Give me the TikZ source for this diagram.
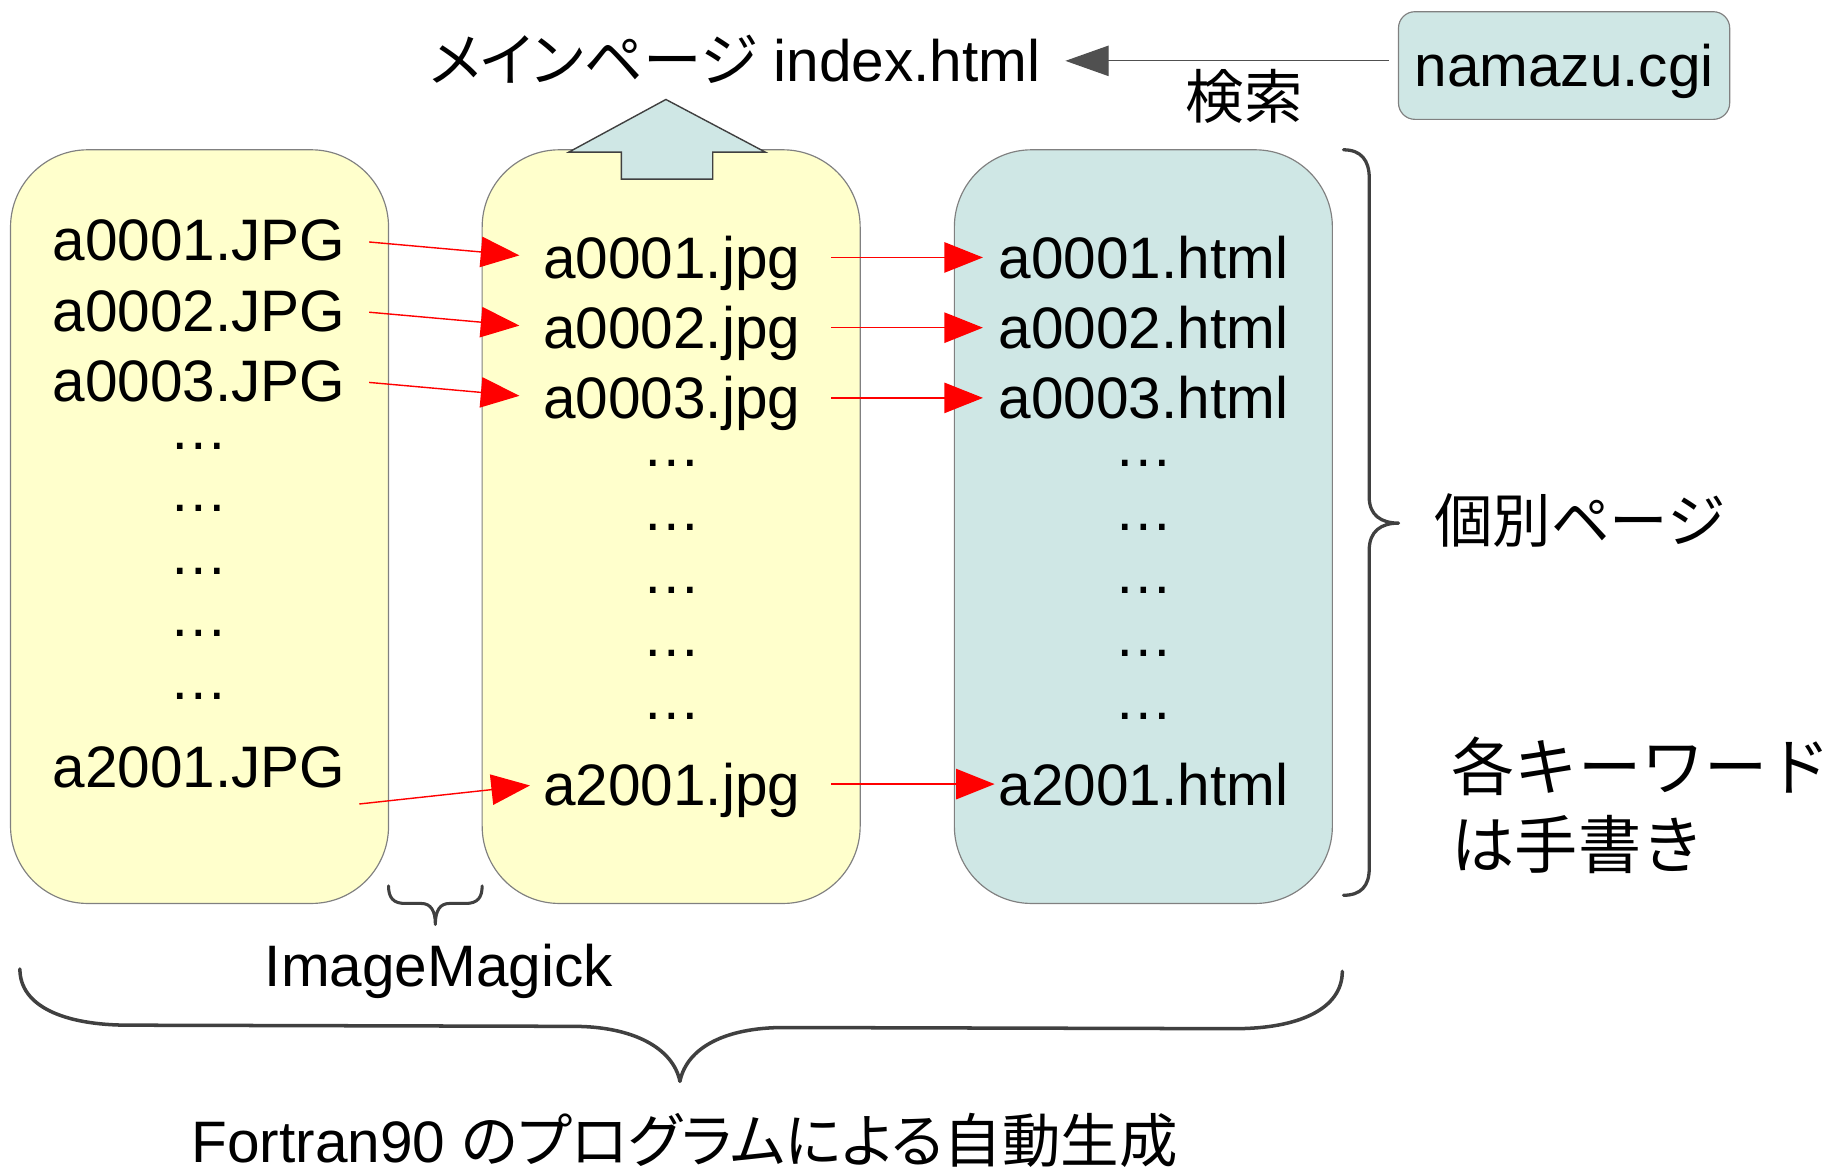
\documentclass[tikz,border=0pt]{standalone}
\usepackage{fontspec}
\setmainfont{Liberation Sans}
\newfontfamily\jp{Noto Sans CJK JP}
\newfontfamily\jpp[RawFeature=+palt]{Noto Sans CJK JP}
\usetikzlibrary{arrows.meta}
\definecolor{boxyellow}{RGB}{255,255,204}
\definecolor{boxteal}{RGB}{207,231,229}
\definecolor{boxline}{RGB}{128,128,128}
\definecolor{bracegray}{RGB}{64,64,64}
\definecolor{arrowgray}{RGB}{80,80,80}
\definecolor{arrowred}{RGB}{255,0,0}
\begin{document}
\begin{tikzpicture}[x=0.5pt,y=-0.5pt,
  colbox/.style={draw=boxline, line width=0.5pt, rounded corners=33pt,
    minimum width=161.5pt, minimum height=322pt, inner sep=0pt},
  ftxt/.style={font=\fontsize{25}{30}\selectfont, inner sep=0pt, anchor=base,
    text height=18pt, text depth=0pt},
  jtxt/.style={font=\fontsize{25}{30}\selectfont\jp, inner sep=0pt},
  redarrow/.style={draw=arrowred, line width=0.6pt,
    -{Triangle[length=16.5pt,width=13pt]}, arrowred},
  bracestyle/.style={draw=bracegray, line width=1.4pt, line cap=round, line join=round},
]
\useasboundingbox (0,0) rectangle (1568,1000.6);

% column boxes
\node[colbox, fill=boxyellow] (c1) at (170.5,450) {};
\node[colbox, fill=boxyellow] (c2) at (573.5,450) {};
\node[colbox, fill=boxteal] (c3) at (977,450) {};

% namazu box
\node[draw=boxline, line width=0.5pt, fill=boxteal, rounded corners=7pt,
  minimum width=141.5pt, minimum height=46pt, inner sep=0pt,
  font=\fontsize{25}{30}\selectfont, text height=18pt, text depth=0pt] (namazu) at (1336.5,56) {namazu.cgi};

% top text
\node[ftxt] (mainpage) at (628,70) {{\jpp メインページ} index.html};
\node[jtxt] (kensaku) at (1063,82) {検索};

% search arrow
\draw[draw=arrowgray, line width=0.5pt, shorten <=4pt, shorten >=10.5pt,
  -{Triangle[length=18.5pt,width=13pt]}, arrowgray] (mainpage.east -| namazu.west) -- (mainpage.east);

% up block arrow
\draw[draw=bracegray, line width=0.6pt, fill=boxteal]
  (531,153) -- (531,130) -- (486,130) -- (569,85) -- (654,130) -- (609,130) -- (609,153) -- cycle;

% column 1
\node[ftxt] (j1) at (170,223) {a0001.JPG};
\node[ftxt] (j2) at (170,283) {a0002.JPG};
\node[ftxt] (j3) at (170,343) {a0003.JPG};
\node[ftxt] (jd1) at (170,384) {…};
\node[ftxt] (jd2) at (170,437) {…};
\node[ftxt] (jd3) at (170,491) {…};
\node[ftxt] (jd4) at (170,544) {…};
\node[ftxt] (jd5) at (170,598) {…};
\node[ftxt] (j2001) at (170,673) {a2001.JPG};

% column 2
\node[ftxt] (p1) at (574,238) {a0001.jpg};
\node[ftxt] (p2) at (574,298) {a0002.jpg};
\node[ftxt] (p3) at (574,358) {a0003.jpg};
\node[ftxt] (pd1) at (574,399) {…};
\node[ftxt] (pd2) at (574,453) {…};
\node[ftxt] (pd3) at (574,507) {…};
\node[ftxt] (pd4) at (574,561) {…};
\node[ftxt] (pd5) at (574,615) {…};
\node[ftxt] (p2001) at (574,688) {a2001.jpg};

% column 3
\node[ftxt] (h1) at (977,238) {a0001.html};
\node[ftxt] (h2) at (977,298) {a0002.html};
\node[ftxt] (h3) at (977,358) {a0003.html};
\node[ftxt] (hd1) at (977,399) {…};
\node[ftxt] (hd2) at (977,453) {…};
\node[ftxt] (hd3) at (977,507) {…};
\node[ftxt] (hd4) at (977,561) {…};
\node[ftxt] (hd5) at (977,615) {…};
\node[ftxt] (h2001) at (977,688) {a2001.html};

% red arrows
\foreach \a/\b in {j1/p1,j2/p2,j3/p3}
  \draw[redarrow, shorten <=10pt, shorten >=10pt] (\a.east) -- (\b.west);
\coordinate (s2001) at (307,687);
\draw[redarrow, shorten >=5.5pt] (s2001) -- (p2001.west);
\foreach \a/\b in {p1/h1,p2/h2,p3/h3}
  \draw[redarrow, shorten <=13pt, shorten >=6.5pt] (\a.east) -- (\b.west);
\draw[redarrow, shorten <=13pt, shorten >=1.5pt] (p2001.east) -- (h2001.west);

% right brace
\draw[bracestyle] (1148,128) .. controls (1163,128) and (1170,137) .. (1170,152)
  -- (1170,425) .. controls (1170,440) and (1180,447) .. (1195,447)
  .. controls (1180,447) and (1170,454) .. (1170,470)
  -- (1170,742) .. controls (1170,757) and (1163,765) .. (1148,765);
\node[jtxt] (kobetsu) at (1350,445) {個別ページ};
\node[jtxt, font=\fontsize{27}{33.5}\selectfont\jp, align=left, anchor=west] (tegaki) at (1240,688) {各キーワード\\は手書き};

% small brace
\draw[bracestyle, line width=1.3pt] (332,757) .. controls (332,767) and (336,772) .. (346,772)
  -- (360,772) .. controls (368,772) and (372,778) .. (372,790)
  .. controls (372,778) and (376,772) .. (384,772)
  -- (398,772) .. controls (408,772) and (412,767) .. (412,757);
\node[ftxt] (imagemagick) at (375,843) {ImageMagick};

% big brace
\draw[bracestyle, line width=1.5pt] (17,828) .. controls (17,860) and (55,876) .. (110,876)
  -- (490,877) .. controls (540,877) and (575,895) .. (581,924)
  .. controls (587,895) and (620,878) .. (670,878)
  -- (1055,879) .. controls (1110,879) and (1147,862) .. (1147,830);
\node[ftxt] (fortran) at (585,993) {Fortran90 {\jpp のプログラムによる自動生成}};
\end{tikzpicture}
\end{document}
